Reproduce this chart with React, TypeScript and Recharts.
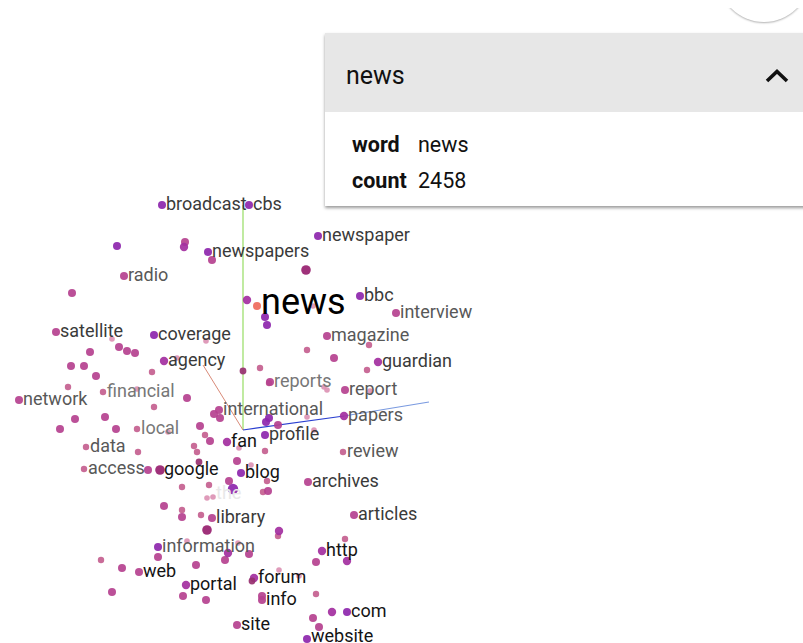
import { ScatterChart, Scatter, XAxis, YAxis, ReferenceLine } from "recharts";

type Pt = [number, number];
type Word = [string, number, number];

// projected positions of the words
const selected: Pt[] = [[257, 306]];
const deepPurple: Pt[] = [
  [318, 236], [154, 335], [249, 205], [347, 612], [241, 473], [307, 639], [360, 296], [162, 205],
  [208, 252], [117, 246], [265, 317], [267, 325], [158, 547], [265, 435], [269, 418], [266, 422],
];
const violet: Pt[] = [
  [184, 247], [164, 361], [247, 300], [186, 585], [322, 551], [378, 362], [227, 442], [254, 578],
  [332, 612], [279, 531], [344, 416], [347, 561], [228, 553],
];
const magenta: Pt[] = [
  [124, 276], [185, 242], [212, 260], [72, 293], [90, 352], [119, 347], [127, 351], [135, 353],
  [71, 366], [84, 366], [96, 376], [396, 313], [327, 336], [270, 382], [345, 390], [139, 572],
  [158, 557], [122, 568], [183, 596], [206, 600], [112, 592], [262, 596], [262, 600], [316, 562],
  [237, 625], [200, 426], [210, 441], [116, 429], [105, 417], [75, 419], [60, 429], [187, 398],
  [220, 418], [214, 414], [219, 410], [56, 332], [19, 400], [196, 565], [225, 560], [249, 554],
  [229, 481], [237, 461], [313, 618], [319, 627], [334, 358], [354, 515], [308, 482], [182, 517],
  [212, 518], [164, 506], [268, 491], [278, 425], [148, 470],
];
const rose: Pt[] = [
  [103, 392], [137, 429], [86, 447], [84, 469], [343, 452], [152, 372], [68, 387], [154, 407],
  [205, 435], [194, 446], [197, 452], [138, 452], [265, 451], [267, 481], [263, 492], [209, 485],
  [182, 487], [182, 510], [201, 515], [345, 539], [316, 594], [307, 350], [369, 345], [367, 370],
  [260, 368], [269, 383], [278, 536], [101, 560],
];
const pale: Pt[] = [
  [112, 339], [206, 341], [137, 389], [324, 387], [327, 390], [370, 391], [313, 306], [307, 417],
  [314, 430], [168, 432], [239, 448], [251, 465], [207, 498], [213, 497], [187, 541], [238, 543],
  [279, 570], [299, 576], [177, 358],
];
const crimson: Pt[] = [[199, 462], [252, 581], [243, 371]];
const crimsonLarge: Pt[] = [[160, 470], [207, 530], [306, 270]];
const large: Pt[] = [[233, 489]];

const dotTiers: { data: Pt[]; fill: string; r: number }[] = [
  { data: pale, fill: "#dc92b4", r: 2.8 },
  { data: rose, fill: "#c4608f", r: 3.2 },
  { data: magenta, fill: "#b5418f", r: 4 },
  { data: violet, fill: "#a32fa0", r: 4.2 },
  { data: deepPurple, fill: "#8d26ac", r: 4 },
  { data: crimson, fill: "#97306f", r: 3.4 },
  { data: crimsonLarge, fill: "#97206f", r: 4.8 },
  { data: large, fill: "#8d26ac", r: 5.2 },
  { data: selected, fill: "#ef6a5c", r: 4 },
];

const nearWords: Word[] = [
  ["google", 160, 470], ["blog", 241, 473], ["http", 322, 551], ["com", 347, 612], ["web", 139, 572],
  ["portal", 186, 585], ["forum", 254, 578], ["info", 262, 600], ["website", 307, 637], ["site", 237, 625],
  ["fan", 227, 442],
];
const midWords: Word[] = [
  ["library", 212, 518], ["profile", 265, 435], ["bbc", 360, 296], ["cbs", 249, 205], ["archives", 308, 482],
  ["newspaper", 318, 236], ["coverage", 154, 335], ["agency", 164, 361], ["broadcast", 162, 205],
  ["newspapers", 208, 252], ["guardian", 378, 362], ["satellite", 56, 332], ["articles", 354, 515],
];
const farWords: Word[] = [
  ["radio", 124, 276], ["interview", 396, 313], ["magazine", 327, 336], ["network", 19, 400],
  ["information", 158, 547], ["report", 345, 390], ["papers", 344, 416], ["review", 343, 452],
  ["data", 86, 447], ["access", 84, 469], ["international", 219, 410],
];
const fadedWords: Word[] = [["financial", 103, 392], ["reports", 270, 382], ["local", 137, 429]];
const ghostWords: Word[] = [["the", 212, 494]];
const mainWord: Word[] = [["news", 257, 306]];

const wordTiers: { data: Word[]; fill: string; size: number; lift: number }[] = [
  { data: ghostWords, fill: "#e8e8e8", size: 18, lift: 1 },
  { data: fadedWords, fill: "#777777", size: 18, lift: 1 },
  { data: farWords, fill: "#585858", size: 18, lift: 1 },
  { data: midWords, fill: "#3a3a3a", size: 18, lift: 1 },
  { data: nearWords, fill: "#141414", size: 18, lift: 1 },
  { data: mainWord, fill: "#000000", size: 36, lift: 5 },
];

const origin = { x: 243, y: 430 };
const blueBend = { x: 344, y: 416 };
const axisSegments = [
  { from: origin, to: { x: 243, y: 205 }, color: "#a5e27a", width: 1.4 },
  { from: origin, to: { x: 203, y: 365 }, color: "#d98a78", width: 1 },
  { from: origin, to: blueBend, color: "#2a3fd0", width: 1.2 },
  { from: blueBend, to: { x: 429, y: 402 }, color: "#7a9ae0", width: 1.2 },
];

const font = "Roboto, sans-serif";
const rowText = { position: "absolute", fontSize: 21.5, lineHeight: "26px", color: "#111" } as const;

export default function App() {
  return (
    <div style={{ position: "absolute", left: 0, top: 0, width: 803, height: 643, overflow: "hidden", background: "#fff", fontFamily: font }}>
      <ScatterChart width={803} height={643} margin={{ top: 0, right: 0, bottom: 0, left: 0 }}>
        <XAxis type="number" dataKey="x" domain={[0, 803]} hide />
        <YAxis type="number" dataKey="y" domain={[0, 643]} reversed hide />
        {axisSegments.map((a) => (
          <ReferenceLine
            key={a.color}
            segment={[a.from, a.to]}
            stroke={a.color}
            strokeWidth={a.width}
          />
        ))}
        {dotTiers.map((t, i) => (
          <Scatter
            key={i}
            data={t.data.map(([x, y]) => ({ x, y }))}
            isAnimationActive={false}
            shape={(p: any) => <circle cx={p.cx} cy={p.cy} r={t.r} fill={t.fill} fillOpacity={0.92} />}
          />
        ))}
        {wordTiers.map((t, i) => (
          <Scatter
            key={"w" + i}
            data={t.data.map(([word, x, y]) => ({ word, x, y }))}
            isAnimationActive={false}
            shape={(p: any) => (
              <text
                x={p.cx + 4}
                y={p.cy - t.lift}
                dy="0.35em"
                fontFamily={font}
                fontSize={t.size}
                fill={t.fill}
              >
                {p.payload.word}
              </text>
            )}
          />
        ))}
      </ScatterChart>

      <div style={{ position: "absolute", left: 700, top: 8, width: 103, height: 20, overflow: "hidden" }}>
        <div style={{ position: "absolute", left: 18, top: -78, width: 92, height: 92, borderRadius: "50%", background: "#fff", boxShadow: "0 1px 2px rgba(0,0,0,0.3)" }} />
      </div>
      <div style={{ position: "absolute", left: 325, top: 33, width: 500, height: 173, background: "#fff", boxShadow: "0 2px 3px rgba(0,0,0,0.4)" }}>
        <div style={{ height: 79, background: "#e7e7e7", position: "relative" }}>
          <span style={{ position: "absolute", left: 21, top: 29, fontSize: 25, lineHeight: "28px", color: "#111" }}>news</span>
          <svg width={26} height={16} style={{ position: "absolute", left: 439, top: 35 }}>
            <path d="M3 13 L13 3.5 L23 13" fill="none" stroke="#111" strokeWidth={3.6} />
          </svg>
        </div>
        <div style={{ ...rowText, left: 27, top: 99, fontWeight: 700 }}>word</div>
        <div style={{ ...rowText, left: 93, top: 99 }}>news</div>
        <div style={{ ...rowText, left: 27, top: 135, fontWeight: 700 }}>count</div>
        <div style={{ ...rowText, left: 93, top: 135 }}>2458</div>
      </div>
    </div>
  );
}
